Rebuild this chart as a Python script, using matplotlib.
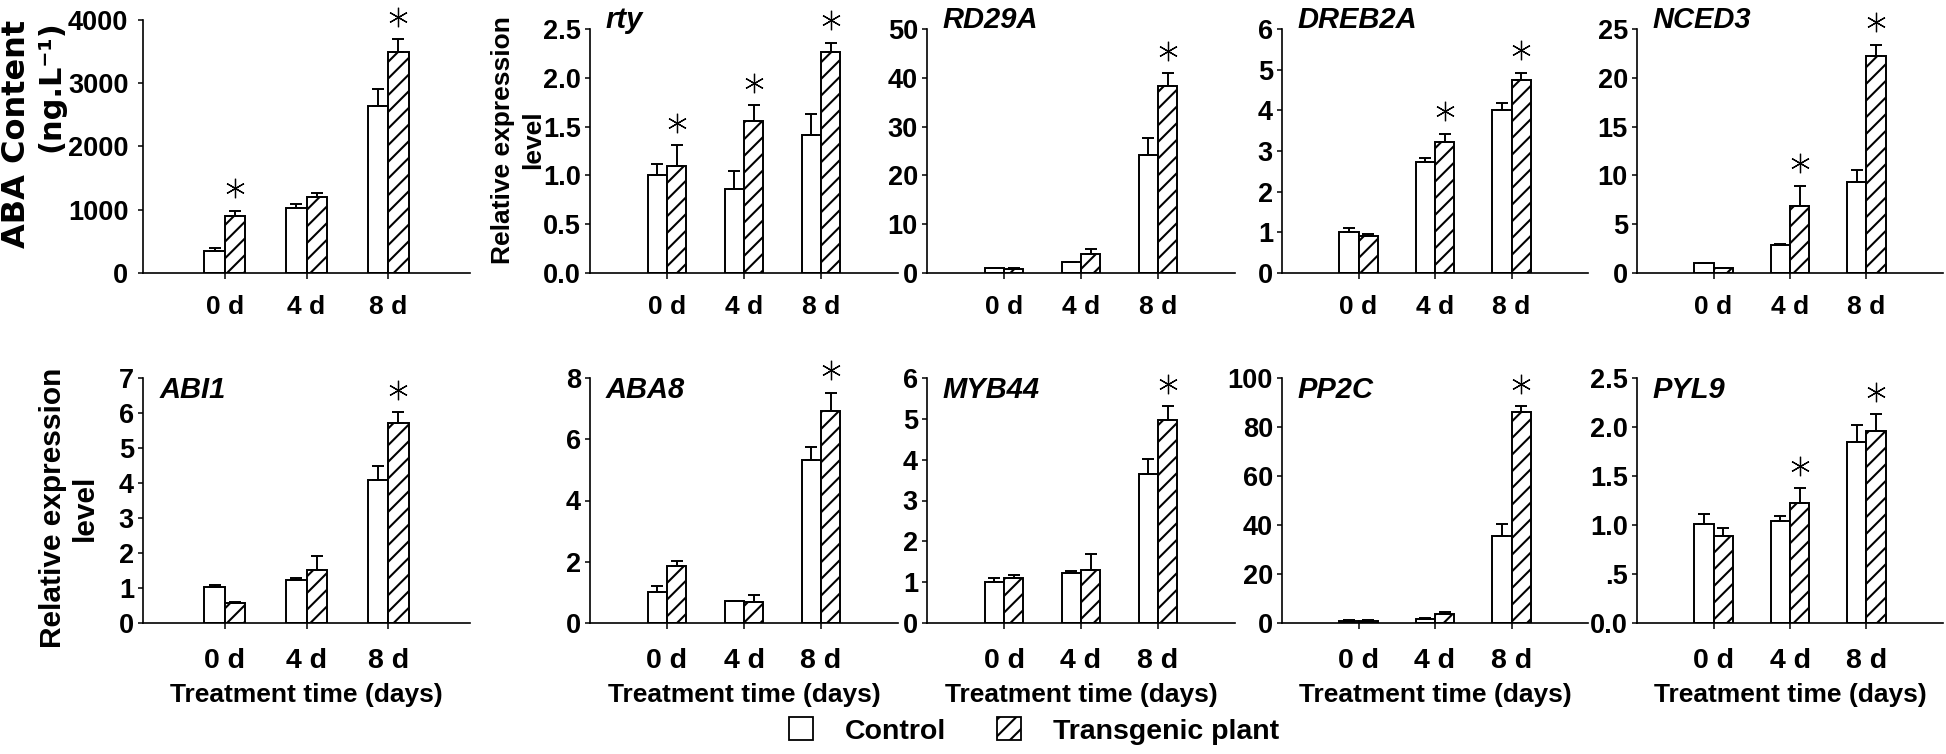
import matplotlib
matplotlib.use('Agg')
import matplotlib.pyplot as plt
import matplotlib.transforms as mtransforms
from matplotlib.patches import Patch
import numpy as np

plt.rcParams['font.family'] = ['Liberation Sans', 'DejaVu Sans']
plt.rcParams['font.weight'] = 'bold'
plt.rcParams['hatch.linewidth'] = 1.5
plt.rcParams['hatch.color'] = 'black'

days = ['0 d', '4 d', '8 d']

# ABA content (ng/L)
aba_ctrl = [340, 1025, 2640]
aba_ctrl_err = [55, 65, 265]
aba_trans = [905, 1195, 3495]
aba_trans_err = [80, 70, 205]
aba_sig = [1, 0, 1]

# rty
rty_ctrl = [1.00, 0.86, 1.41]
rty_ctrl_err = [0.12, 0.18, 0.22]
rty_trans = [1.10, 1.56, 2.26]
rty_trans_err = [0.21, 0.16, 0.10]
rty_sig = [1, 1, 1]

# RD29A
rd29a_ctrl = [1.0, 2.2, 24.2]
rd29a_ctrl_err = [0.1, 0.1, 3.5]
rd29a_trans = [0.9, 3.9, 38.4]
rd29a_trans_err = [0.1, 1.1, 2.6]
rd29a_sig = [0, 0, 1]

# DREB2A
dreb2a_ctrl = [1.00, 2.73, 4.02]
dreb2a_ctrl_err = [0.10, 0.10, 0.16]
dreb2a_trans = [0.90, 3.21, 4.75]
dreb2a_trans_err = [0.07, 0.22, 0.18]
dreb2a_sig = [0, 1, 1]

# NCED3
nced3_ctrl = [1.0, 2.9, 9.3]
nced3_ctrl_err = [0.05, 0.05, 1.3]
nced3_trans = [0.5, 6.9, 22.2]
nced3_trans_err = [0.05, 2.05, 1.2]
nced3_sig = [0, 1, 1]

# ABI1
abi1_ctrl = [1.02, 1.24, 4.10]
abi1_ctrl_err = [0.08, 0.04, 0.39]
abi1_trans = [0.57, 1.52, 5.71]
abi1_trans_err = [0.03, 0.40, 0.31]
abi1_sig = [0, 0, 1]

# ABA8
aba8_ctrl = [1.01, 0.72, 5.32]
aba8_ctrl_err = [0.19, 0.01, 0.43]
aba8_trans = [1.86, 0.69, 6.93]
aba8_trans_err = [0.16, 0.23, 0.59]
aba8_sig = [0, 0, 1]

# MYB44
myb44_ctrl = [1.00, 1.22, 3.66]
myb44_ctrl_err = [0.11, 0.05, 0.36]
myb44_trans = [1.11, 1.31, 4.96]
myb44_trans_err = [0.07, 0.37, 0.35]
myb44_sig = [0, 0, 1]

# PP2C
pp2c_ctrl = [0.9, 1.8, 35.5]
pp2c_ctrl_err = [0.3, 0.2, 5.0]
pp2c_trans = [0.8, 3.5, 86.1]
pp2c_trans_err = [0.3, 1.0, 2.3]
pp2c_sig = [0, 0, 1]

# PYL9
pyl9_ctrl = [1.01, 1.04, 1.85]
pyl9_ctrl_err = [0.10, 0.05, 0.17]
pyl9_trans = [0.89, 1.22, 1.96]
pyl9_trans_err = [0.08, 0.16, 0.17]
pyl9_sig = [0, 1, 1]

W, H = 1946, 754
fig = plt.figure(figsize=(W / 100, H / 100), dpi=100)

col_left = [143, 590, 927, 1282, 1637]
col_width = [327, 308, 308, 306, 306]


def px_rect(left, top, width, height):
    return [left / W, 1 - (top + height) / H, width / W, height / H]


def draw_panel(ax, ctrl, ctrl_err, trans, trans_err, sig, yticks, yticklabels, gene, gene_y, xtick_size, xpad):
    x = np.arange(1, 4)
    w = 0.25
    ax.bar(x - w / 2, ctrl, w, color='white', edgecolor='black', linewidth=1.4, zorder=2)
    ax.bar(x + w / 2, trans, w, color='white', edgecolor='black', linewidth=1.4, hatch='//', zorder=2)
    zeros = np.zeros(3)
    ax.errorbar(x - w / 2, ctrl, yerr=[zeros, ctrl_err], fmt='none', ecolor='black',
                elinewidth=1.4, capsize=4.5, capthick=1.4, zorder=3)
    ax.errorbar(x + w / 2, trans, yerr=[zeros, trans_err], fmt='none', ecolor='black',
                elinewidth=1.4, capsize=4.5, capthick=1.4, zorder=3)

    # significance asterisks above the transgenic bars
    star_tr = mtransforms.offset_copy(ax.transData, fig=fig, y=16, units='points')
    for i in range(3):
        if sig[i]:
            ax.plot(x[i] + w / 2, trans[i] + trans_err[i], marker=(6, 2, 0), ms=14, mew=0.9,
                    color='black', ls='none', transform=star_tr, clip_on=False)

    ax.set_xlim(0, 4)
    ax.set_ylim(yticks[0], yticks[-1])
    ax.set_yticks(yticks)
    ax.set_yticklabels(yticklabels)
    ax.set_xticks(x)
    ax.set_xticklabels(days)
    ax.spines['top'].set_visible(False)
    ax.spines['right'].set_visible(False)
    ax.spines['left'].set_linewidth(1.2)
    ax.spines['bottom'].set_linewidth(1.2)
    ax.tick_params(axis='y', direction='out', length=3.5, width=1.1, pad=3, labelsize=19.5)
    ax.tick_params(axis='x', direction='out', length=4, width=1.1, pad=xpad, labelsize=xtick_size)
    if gene:
        ax.text(0.05, gene_y, gene, transform=ax.transAxes, fontsize=21, fontweight='bold',
                fontstyle='italic', va='center', ha='left')


# top row
top_panels = [
    (aba_ctrl, aba_ctrl_err, aba_trans, aba_trans_err, aba_sig,
     [0, 1000, 2000, 3000, 4000], ['0', '1000', '2000', '3000', '4000'], None),
    (rty_ctrl, rty_ctrl_err, rty_trans, rty_trans_err, rty_sig,
     [0, 0.5, 1.0, 1.5, 2.0, 2.5], ['0.0', '0.5', '1.0', '1.5', '2.0', '2.5'], 'rty'),
    (rd29a_ctrl, rd29a_ctrl_err, rd29a_trans, rd29a_trans_err, rd29a_sig,
     [0, 10, 20, 30, 40, 50], ['0', '10', '20', '30', '40', '50'], 'RD29A'),
    (dreb2a_ctrl, dreb2a_ctrl_err, dreb2a_trans, dreb2a_trans_err, dreb2a_sig,
     [0, 1, 2, 3, 4, 5, 6], ['0', '1', '2', '3', '4', '5', '6'], 'DREB2A'),
    (nced3_ctrl, nced3_ctrl_err, nced3_trans, nced3_trans_err, nced3_sig,
     [0, 5, 10, 15, 20, 25], ['0', '5', '10', '15', '20', '25'], 'NCED3'),
]

bottom_panels = [
    (abi1_ctrl, abi1_ctrl_err, abi1_trans, abi1_trans_err, abi1_sig,
     [0, 1, 2, 3, 4, 5, 6, 7], ['0', '1', '2', '3', '4', '5', '6', '7'], 'ABI1'),
    (aba8_ctrl, aba8_ctrl_err, aba8_trans, aba8_trans_err, aba8_sig,
     [0, 2, 4, 6, 8], ['0', '2', '4', '6', '8'], 'ABA8'),
    (myb44_ctrl, myb44_ctrl_err, myb44_trans, myb44_trans_err, myb44_sig,
     [0, 1, 2, 3, 4, 5, 6], ['0', '1', '2', '3', '4', '5', '6'], 'MYB44'),
    (pp2c_ctrl, pp2c_ctrl_err, pp2c_trans, pp2c_trans_err, pp2c_sig,
     [0, 20, 40, 60, 80, 100], ['0', '20', '40', '60', '80', '100'], 'PP2C'),
    (pyl9_ctrl, pyl9_ctrl_err, pyl9_trans, pyl9_trans_err, pyl9_sig,
     [0, 0.5, 1.0, 1.5, 2.0, 2.5], ['0.0', '.5', '1.0', '1.5', '2.0', '2.5'], 'PYL9'),
]

for i, p in enumerate(top_panels):
    if i == 0:
        ax = fig.add_axes(px_rect(col_left[i], 20, col_width[i], 253))
    else:
        ax = fig.add_axes(px_rect(col_left[i], 29, col_width[i], 244))
    draw_panel(ax, *p[:5], p[5], p[6], p[7], 1.037, 19, 12)
    if i == 0:
        ax.tick_params(axis='y', pad=7)

for i, p in enumerate(bottom_panels):
    ax = fig.add_axes(px_rect(col_left[i], 378, col_width[i], 245))
    draw_panel(ax, *p[:5], p[5], p[6], p[7], 0.95, 20.5, 14)
    ax.set_xlabel('Treatment time (days)', fontsize=19, fontweight='bold')
    ax.xaxis.set_label_coords(0.5, -(695 - 623) / 245)
    ax.xaxis.label.set_va('center')

# y labels
fig.text(17 / W, 1 - 20 / H, 'ABA Content', rotation=90, ha='center', va='top',
         fontsize=23, fontweight='bold', family=['DejaVu Sans'])
fig.text(51 / W, 1 - 20 / H, '(ng.L\u207b\u00b9)', rotation=90, ha='center', va='top',
         fontsize=22, fontweight='bold', family=['DejaVu Sans'])
fig.text(518 / W, 1 - 140 / H, 'Relative expression\nlevel', rotation=90, ha='center',
         va='center', multialignment='center', fontsize=19, fontweight='bold', linespacing=1.35)
fig.text(69 / W, 1 - 508 / H, 'Relative expression\nlevel', rotation=90, ha='center',
         va='center', multialignment='center', fontsize=21.5, fontweight='bold', linespacing=1.2)

handles = [Patch(facecolor='white', edgecolor='black', linewidth=1.3),
           Patch(facecolor='white', edgecolor='black', linewidth=1.3, hatch='//')]
fig.legend(handles, ['Control', 'Transgenic plant'], loc='center',
           bbox_to_anchor=(1034 / W, 1 - 731 / H), ncol=2, frameon=False,
           prop={'size': 20.5, 'weight': 'bold'}, handlelength=0.85, handleheight=0.85,
           handletextpad=1.1, columnspacing=1.8)

fig.savefig('out.png', dpi=100)
